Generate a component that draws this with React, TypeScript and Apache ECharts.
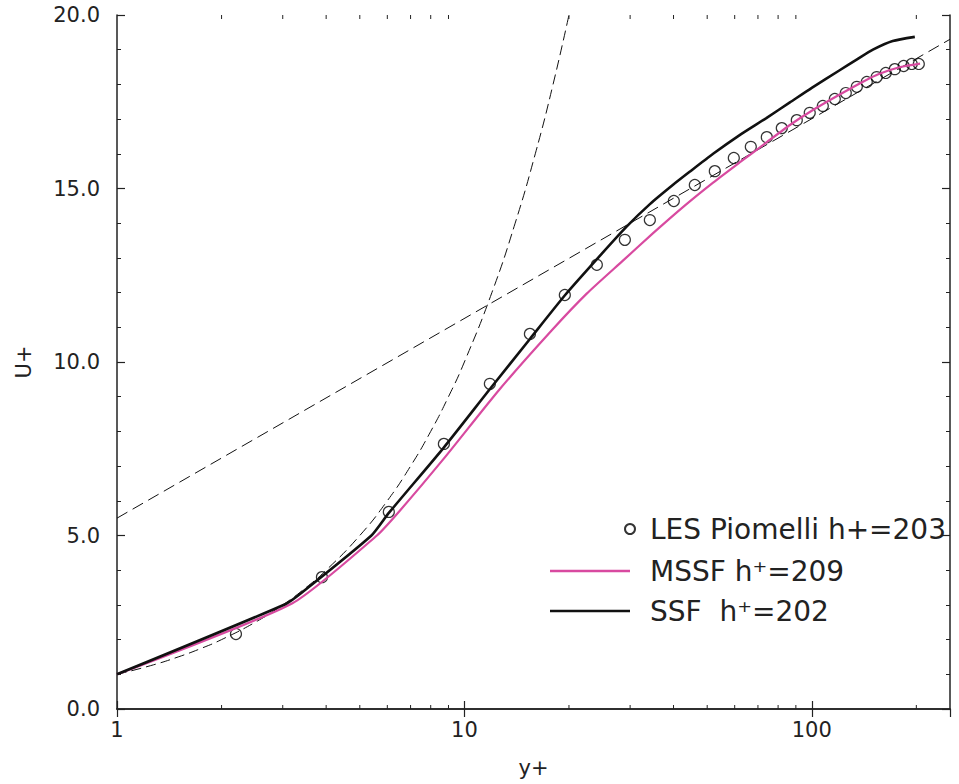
import React, { useEffect, useRef } from 'react';
import * as echarts from 'echarts';

// LES Piomelli h+=203 (circles)
const lesYPlus = [2.2, 3.89, 6.06, 8.73, 11.84, 15.44, 19.46, 24.06, 28.97, 34.19, 40.08, 46.06, 52.59, 59.65, 66.76, 74.23, 81.98, 90.55, 98.67, 107.6, 116.5, 125.3, 134.8, 144.0, 153.8, 163.3, 173.4, 183.9, 194.0, 203.3];
const lesUPlus = [2.16, 3.8, 5.68, 7.64, 9.37, 10.81, 11.93, 12.8, 13.52, 14.09, 14.64, 15.1, 15.5, 15.88, 16.2, 16.48, 16.74, 16.97, 17.18, 17.38, 17.58, 17.75, 17.93, 18.07, 18.21, 18.33, 18.44, 18.53, 18.59, 18.59];

// MSSF h+=209 (magenta)
const mssfYPlus = [1, 3.2, 5.6, 6.5, 8.7, 12.6, 17.8, 22.5, 28.6, 35, 43, 52, 62, 73, 86.5, 100, 120, 140, 156, 180, 205];
const mssfUPlus = [1.0, 3.05, 5.0, 5.7, 7.2, 9.2, 10.9, 11.97, 12.92, 13.72, 14.5, 15.17, 15.75, 16.28, 16.83, 17.24, 17.7, 18.07, 18.3, 18.5, 18.6];

// SSF h+=202 (black)
const ssfYPlus = [1, 3.05, 3.4, 5.4, 6.06, 8.7, 11.8, 15.4, 19.5, 24, 29.3, 34.2, 39.8, 44.5, 52, 62, 74, 86.5, 100, 120, 135, 150, 171, 198];
const ssfUPlus = [1.0, 3.02, 3.35, 5.0, 5.65, 7.52, 9.2, 10.65, 11.93, 12.95, 13.9, 14.55, 15.1, 15.48, 16.0, 16.54, 17.03, 17.48, 17.9, 18.4, 18.72, 19.0, 19.25, 19.37];

// Reference curves
const viscousYPlus = [1, 1.25, 1.5, 1.75, 2, 2.5, 3, 3.5, 4, 5, 6, 7, 8, 9, 10, 12, 14, 16, 18, 20];
const viscousUPlus = [1, 1.25, 1.5, 1.75, 2, 2.5, 3, 3.5, 4, 5, 6, 7, 8, 9, 10, 12, 14, 16, 18, 20];
const logLawYPlus = [1, 250];
const logLawUPlus = [5.5, 19.3];

// Axis ticks
const xMinorTicks = [2, 3, 4, 5, 6, 7, 8, 9, 20, 30, 40, 50, 60, 70, 80, 90, 200];
const xTickLabels = ['1', '10', '100'];
const yTickValues = [0, 5, 10, 15, 20];

const zip = (a: number[], b: number[]) => a.map((v, i) => [v, b[i]]);

const FONT = 'DejaVu Sans';
const AXIS_COLOR = '#222';

export default function App() {
  const ref = useRef<HTMLDivElement>(null);

  useEffect(() => {
    if (!ref.current) return;
    const chart = echarts.init(ref.current, undefined, { renderer: 'svg' });

    const axisLine = { show: true, lineStyle: { color: AXIS_COLOR, width: 1.5 } };

    chart.setOption({
      animation: false,
      backgroundColor: '#fff',
      grid: { left: 117, right: 9, top: 15, bottom: 75, containLabel: false },
      legend: [
        {
          data: ['LES Piomelli h+=203'],
          left: 624,
          top: 515,
          padding: 0,
          selectedMode: false,
          itemWidth: 10,
          itemHeight: 10,
          textStyle: { fontFamily: FONT, fontSize: 28, color: '#222', padding: [0, 0, 0, 10] },
        },
        {
          data: [{ name: 'MSSF h⁺=209', icon: 'rect' }],
          left: 550,
          top: 557,
          padding: 0,
          selectedMode: false,
          itemWidth: 80,
          itemHeight: 2.5,
          textStyle: { fontFamily: FONT, fontSize: 28, color: '#222', padding: [0, 0, 0, 15] },
        },
        {
          data: [{ name: 'SSF  h⁺=202', icon: 'rect' }],
          left: 550,
          top: 597,
          padding: 0,
          selectedMode: false,
          itemWidth: 80,
          itemHeight: 2.5,
          textStyle: { fontFamily: FONT, fontSize: 28, color: '#222', padding: [0, 0, 0, 15] },
        },
      ],
      xAxis: [
        {
          type: 'log',
          logBase: 10,
          min: 1,
          max: 250,
          position: 'bottom',
          name: 'y+',
          nameLocation: 'middle',
          nameGap: 48,
          nameTextStyle: { fontFamily: FONT, fontSize: 21, color: '#222' },
          axisLine,
          axisTick: { show: true, inside: true, length: 8, lineStyle: { color: AXIS_COLOR, width: 1.2 } },
          axisLabel: {
            show: true,
            margin: 10,
            fontFamily: FONT,
            fontSize: 21,
            color: '#222',
            showMaxLabel: false,
            formatter: (v: number) => {
              const idx = Math.round(Math.log10(v));
              return Math.abs(Math.log10(v) - idx) < 1e-6 && xTickLabels[idx] ? xTickLabels[idx] : '';
            },
          },
          splitLine: { show: false },
        },
        {
          type: 'log',
          logBase: 10,
          min: 1,
          max: 250,
          position: 'top',
          axisLine,
          axisTick: { show: true, inside: true, length: 8, lineStyle: { color: AXIS_COLOR, width: 1.2 } },
          axisLabel: { show: false },
          splitLine: { show: false },
        },
      ],
      yAxis: [
        {
          type: 'value',
          min: yTickValues[0],
          max: yTickValues[yTickValues.length - 1],
          interval: 5,
          position: 'left',
          name: 'U+',
          nameLocation: 'middle',
          nameGap: 83,
          nameRotate: 90,
          nameTextStyle: { fontFamily: FONT, fontSize: 21, color: '#222' },
          axisLine,
          axisTick: { show: true, inside: true, length: 8, lineStyle: { color: AXIS_COLOR, width: 1.2 } },
          minorTick: { show: true, splitNumber: 5, length: 4, lineStyle: { color: AXIS_COLOR, width: 1 } },
          axisLabel: {
            margin: 17,
            fontFamily: FONT,
            fontSize: 21,
            color: '#222',
            formatter: (v: number) => v.toFixed(1),
          },
          splitLine: { show: false },
        },
        {
          type: 'value',
          min: yTickValues[0],
          max: yTickValues[yTickValues.length - 1],
          interval: 5,
          position: 'right',
          axisLine,
          axisTick: { show: true, inside: true, length: 8, lineStyle: { color: AXIS_COLOR, width: 1.2 } },
          minorTick: { show: true, splitNumber: 5, length: 4, lineStyle: { color: AXIS_COLOR, width: 1 } },
          axisLabel: { show: false },
          splitLine: { show: false },
        },
      ],
      series: [
        {
          type: 'custom',
          name: 'minorTicksX',
          xAxisIndex: 0,
          yAxisIndex: 0,
          silent: true,
          clip: false,
          data: xMinorTicks.map((v) => [v, 0]),
          renderItem: (params: any, api: any) => {
            const v = api.value(0);
            const b = api.coord([v, 0]);
            const t = api.coord([v, 20]);
            const style = { stroke: AXIS_COLOR, lineWidth: 1 };
            return {
              type: 'group',
              children: [
                { type: 'line', shape: { x1: b[0], y1: b[1], x2: b[0], y2: b[1] - 4 }, style },
                { type: 'line', shape: { x1: t[0], y1: t[1], x2: t[0], y2: t[1] + 4 }, style },
              ],
            };
          },
        },
        {
          type: 'line',
          name: 'viscous',
          data: zip(viscousYPlus, viscousUPlus),
          showSymbol: false,
          smooth: true,
          silent: true,
          lineStyle: { color: '#111', width: 1, type: [10, 5] },
        },
        {
          type: 'line',
          name: 'loglaw',
          data: zip(logLawYPlus, logLawUPlus),
          showSymbol: false,
          silent: true,
          lineStyle: { color: '#111', width: 1, type: [12, 6] },
        },
        {
          type: 'scatter',
          name: 'LES Piomelli h+=203',
          data: zip(lesYPlus, lesUPlus),
          symbol: 'circle',
          symbolSize: 11,
          itemStyle: { color: 'rgba(0,0,0,0)', borderColor: '#000', borderWidth: 1.2 },
        },
        {
          type: 'line',
          name: 'MSSF h⁺=209',
          data: zip(mssfYPlus, mssfUPlus),
          showSymbol: false,
          smooth: 0.2,
          color: '#d84aa0',
          lineStyle: { color: '#d84aa0', width: 2.2 },
        },
        {
          type: 'line',
          name: 'SSF  h⁺=202',
          data: zip(ssfYPlus, ssfUPlus),
          showSymbol: false,
          smooth: 0.2,
          color: '#111',
          lineStyle: { color: '#111', width: 2.6 },
        },
      ],
    });

    return () => chart.dispose();
  }, []);

  return (
    <div
      ref={ref}
      style={{ position: 'fixed', left: 0, top: 0, width: 959, height: 784, background: '#fff' }}
    />
  );
}
